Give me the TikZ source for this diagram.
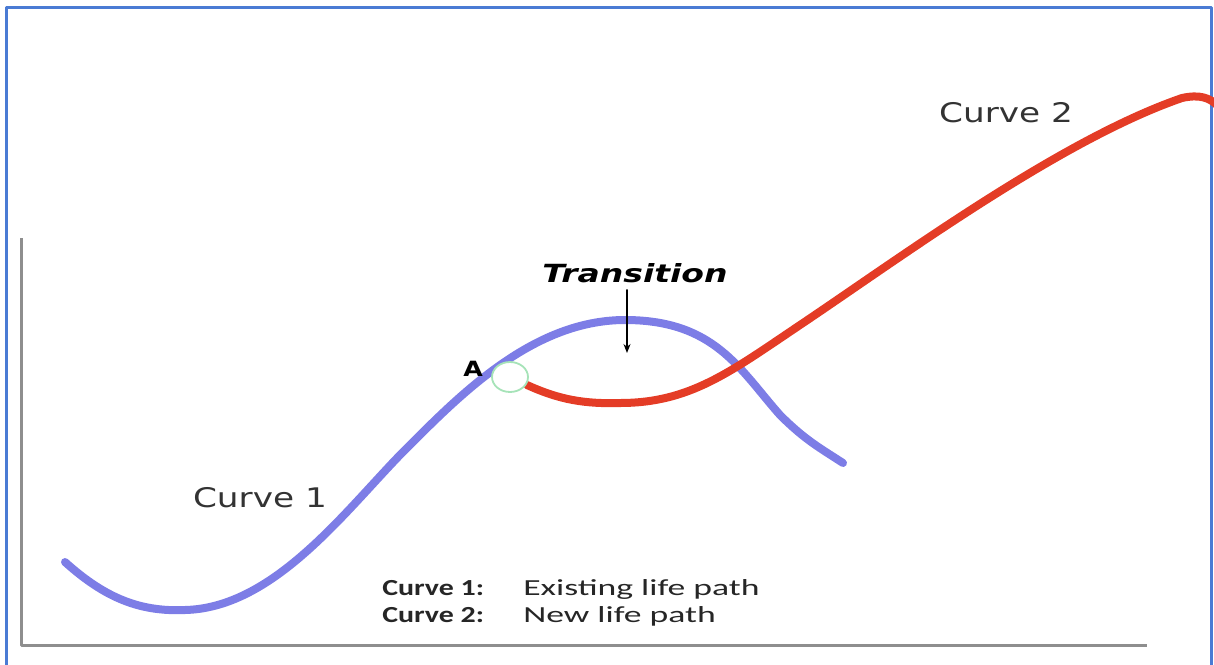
\documentclass[tikz,border=0pt]{standalone}
\usepackage{fontspec}
\newfontfamily\labelfont{DejaVu Sans}
\newfontfamily\legendfont{Carlito}
\usetikzlibrary{arrows.meta}
\definecolor{curveblue}{HTML}{7D7DE6}
\definecolor{curvered}{HTML}{E43C26}
\definecolor{framecol}{HTML}{4A7BD4}
\definecolor{axisgray}{HTML}{8E8E8E}
\definecolor{ringgreen}{HTML}{A6E3B8}
\tikzset{
  every picture/.style={line join=round, line cap=round, >=Stealth},
  lifecurve/.style={line width=8pt},
  curvelabel/.style={font=\labelfont\fontsize{27}{30}\selectfont, text=black!80, xscale=1.27, inner sep=0pt},
  legendkey/.style={font=\legendfont\bfseries\fontsize{23}{26}\selectfont, text=black!85, xscale=1.3, inner sep=0pt, anchor=base west},
  legendtext/.style={font=\legendfont\fontsize{23}{26}\selectfont, text=black!85, xscale=1.55, inner sep=0pt, anchor=base west},
}

\begin{document}
\begin{tikzpicture}[x=1pt,y=-1pt]
\useasboundingbox (0,0) rectangle (1214,664);
\draw[framecol,line width=2.5pt,line cap=butt] (6.5,670) -- (6.5,7.5) -- (1211.5,7.5) -- (1211.5,670);
\draw[axisgray,line width=3pt,line cap=butt] (21,238) -- (21,645) -- (1147,645);
\coordinate (start1) at (65,562);
\coordinate (low1) at (185,610);
\coordinate (mid1) at (400,455);
\coordinate (peak1) at (625,320);
\coordinate (end1) at (843,463);
\coordinate (ptA) at (510,377);
\coordinate (low2) at (620,403);
\coordinate (top2) at (1182,98);
\coordinate (end2) at (1218,106);
\draw[curveblue,lifecurve] (start1) .. controls (105,598) and (140,612) .. (low1)
  .. controls (272,608) and (342,515) .. (mid1)
  .. controls (455,400) and (530,320) .. (peak1)
  .. controls (715,320) and (740,370) .. (780,415)
  .. controls (805,440) and (820,448) .. (end1);
\draw[curvered,lifecurve] (527,385) .. controls (560,400) and (585,404) .. (low2)
  .. controls (690,403) and (730,372) .. (800,325)
  .. controls (900,258) and (1060,140) .. (top2)
  .. controls (1200,94) and (1210,98) .. (end2);
\draw[ringgreen,fill=white,line width=1.8pt] (ptA) ellipse[x radius=18,y radius=15];
\node[font=\labelfont\bfseries\fontsize{21}{24}\selectfont,xscale=1.2,inner sep=0pt] (labA) at (473,369) {A};
\node[font=\labelfont\bfseries\itshape\fontsize{25}{28}\selectfont,xscale=1.32,inner sep=0pt] (trans) at (635,273) {Transition};
\coordinate (transtip) at (627,353);
\draw[-{Stealth[length=9pt,width=7pt]},line width=1.3pt] (trans.south -| transtip) ++(0,7) -- (transtip);
\node[curvelabel] (c1) at (260,498) {Curve 1};
\node[curvelabel] (c2) at (1006,113) {Curve 2};
\node[legendkey] (leg1) at (382,595) {Curve 1:};
\node[legendtext] (leg1t) at (523,595) {Existing life path};
\node[legendkey] (leg2) at (382,622) {Curve 2:};
\node[legendtext] (leg2t) at (523,622) {New life path};
\end{tikzpicture}
\end{document}
